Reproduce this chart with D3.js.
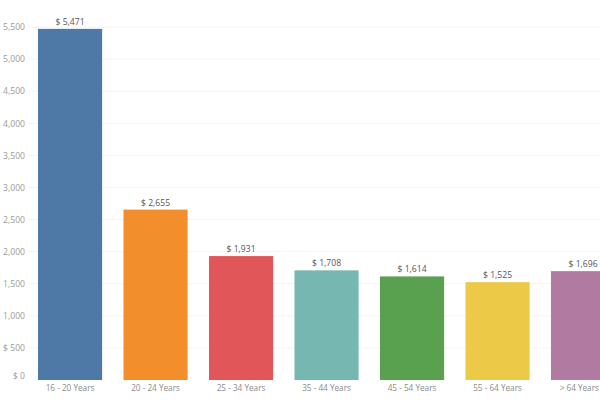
<!DOCTYPE html>
<html><head><meta charset="utf-8">
<script src="https://cdn.jsdelivr.net/npm/d3@7"></script>
<style>body{margin:0;background:#fff}svg{display:block}text{font-family:"Open Sans",Lato,sans-serif}</style>
</head><body><svg id="c" width="600" height="400"></svg>
<script>
const categories = ["16 - 20 Years","20 - 24 Years","25 - 34 Years","35 - 44 Years","45 - 54 Years","55 - 64 Years","> 64 Years"];
const values = [5471, 2655, 1931, 1708, 1614, 1525, 1696];
const valueLabels = ["$ 5,471","$ 2,655","$ 1,931","$ 1,708","$ 1,614","$ 1,525","$ 1,696"];
const tickValues = [0,500,1000,1500,2000,2500,3000,3500,4000,4500,5000,5500];
const tickLabels = ["$ 0","$ 500","1,000","1,500","2,000","2,500","3,000","3,500","4,000","4,500","5,000","5,500"];
const colors = ["#4e79a7","#f28e2b","#e15759","#76b7b2","#59a14f","#edc948","#b07aa1"];

const svg = d3.select("#c");
const y = d3.scaleLinear().domain([0,5500]).range([380,27]);
const x = d3.scaleBand().domain(categories).range([27.3,625.8]).paddingInner(0.25).paddingOuter(0.125);

// gridlines
svg.append("g").selectAll("line").data(tickValues.slice(1)).join("line")
  .attr("x1",28).attr("x2",600).attr("y1",d=>y(d)).attr("y2",d=>y(d))
  .attr("stroke","#f4f4f4").attr("stroke-width",1);

// y axis labels
const yAxis = d3.axisLeft(y).tickValues(tickValues).tickFormat((d,i)=>tickLabels[i]).tickSize(0).tickPadding(0);
const ga = svg.append("g").attr("transform","translate(25,0)").call(yAxis);
ga.select(".domain").remove();
ga.selectAll("text").attr("fill","#9a9a9a").style("font-size","8.6px")
  .attr("dy", d => d===0 ? "-0.15em" : "0.32em");

// bars
svg.append("g").selectAll("rect").data(values).join("rect")
  .attr("x",(d,i)=>x(categories[i])).attr("width",x.bandwidth())
  .attr("y",d=>y(d)).attr("height",d=>y(0)-y(d))
  .attr("fill",(d,i)=>colors[i]);

// value labels
svg.append("g").selectAll("text").data(values).join("text")
  .attr("x",(d,i)=>x(categories[i])+x.bandwidth()/2).attr("y",d=>y(d)-4)
  .attr("text-anchor","middle").attr("fill","#555").style("font-size","8.6px")
  .text((d,i)=>valueLabels[i]);

// x axis
const xAxis = d3.axisBottom(x).tickSize(0).tickPadding(0);
const gx = svg.append("g").attr("transform","translate(0,385)").call(xAxis);
gx.select(".domain").remove();
gx.selectAll("text").attr("fill","#8a8a8a").style("font-size","8.2px").attr("dy","0.71em");

// keep labels inside the visible frame
svg.selectAll("text").each(function(){
  const b = this.getBoundingClientRect();
  if (b.right > 599) {
    const cur = +d3.select(this).attr("x") || 0;
    d3.select(this).attr("x", cur - (b.right - 599));
  }
});
</script></body></html>
